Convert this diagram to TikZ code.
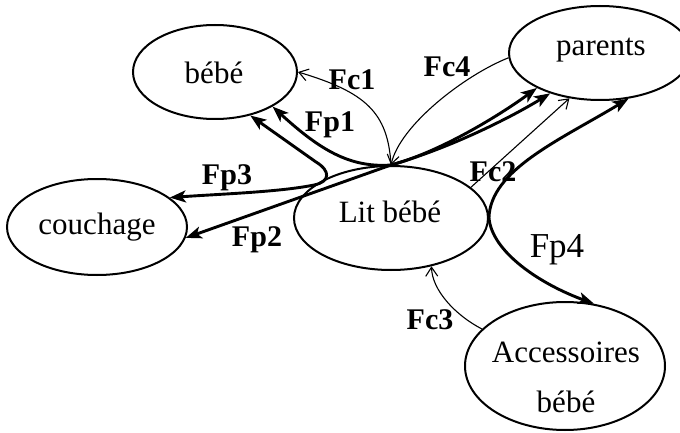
\documentclass[tikz,border=0pt]{standalone}
\usepackage{fontspec}
\setmainfont{Liberation Serif}
\usetikzlibrary{shapes.geometric,arrows.meta}
\tikzset{
  bubble/.style={draw, ellipse, line width=2pt, inner sep=0pt,
    font=\fontsize{31}{50}\selectfont, align=center},
  fp/.style={line width=2.9pt, {Stealth[length=16pt,width=12pt,inset=4pt]}-{Stealth[length=16pt,width=12pt,inset=4pt]}},
  fc/.style={line width=1.1pt, -{Straight Barb[length=9pt,width=12pt]}},
  blab/.style={font=\fontsize{30}{32}\selectfont\bfseries, inner sep=0pt},
  rlab/.style={font=\fontsize{35}{38}\selectfont, inner sep=0pt}
}
\begin{document}
\begin{tikzpicture}[x=1pt,y=-1pt]
\useasboundingbox (0,0) rectangle (680,433);
% nodes
\node[bubble, minimum width=164pt, minimum height=94pt] (bebe) at (215,72) {};
\node[font=\fontsize{31}{50}\selectfont] (bebet) at (214,73) {bébé};
\node[bubble, minimum width=182pt, minimum height=94pt] (parents) at (600,53) {};
\node[font=\fontsize{31}{50}\selectfont] (parentst) at (601,50) {parents};
\node[bubble, minimum width=180pt, minimum height=96pt] (couchage) at (97,227) {couchage};
\node[bubble, minimum width=194pt, minimum height=104pt] (lit) at (391,218) {};
\node[font=\fontsize{31}{50}\selectfont] (litt) at (390,212) {Lit bébé};
\node[bubble, minimum width=200pt, minimum height=128pt] (acc) at (565,366) {};
\node[font=\fontsize{31}{50}\selectfont, align=center] (acct) at (566,377) {Accessoires\\bébé};
% principal functions
\draw[fp] (bebe.-31) .. controls (320,150) and (350,168) .. (lit.north)
  .. controls (440,152) and (500,115) .. (parents.209);
\draw[fp] (couchage.-7) -- (lit.north)
  .. controls (450,148) and (510,118) .. (parents.219);
\draw[fp] (bebe.-51) -- (316,162) .. controls (331,171) and (330,182) .. (314,185)
  .. controls (280,192) and (220,194) .. (couchage.22);
\draw[fp] (parents.-58) .. controls (560,140) and (490,170) .. (lit.east)
  .. controls (492,252) and (540,284) .. (acc.65);
% constraint functions
\draw[fc] (lit.north) .. controls (388,112) and (365,92) .. (bebe.east);
\draw[fc] (parents.183) .. controls (465,75) and (400,125) .. (lit.north);
\draw[fc] (lit.21) -- (parents.236);
\draw[fc] (acc.156) .. controls (455,315) and (432,290) .. (lit.-50);
% labels
\node[blab] (lFc1) at (352,80) {Fc1};
\node[blab] (lFc4) at (447,67) {Fc4};
\node[blab] (lFp1) at (330,125) {Fp1};
\node[blab] (lFc2) at (493,172) {Fc2};
\node[blab] (lFp3) at (227,178) {Fp3};
\node[blab] (lFp2) at (257,240) {Fp2};
\node[rlab] (lFp4) at (557,250) {Fp4};
\node[blab] (lFc3) at (430,320) {Fc3};
\end{tikzpicture}
\end{document}
